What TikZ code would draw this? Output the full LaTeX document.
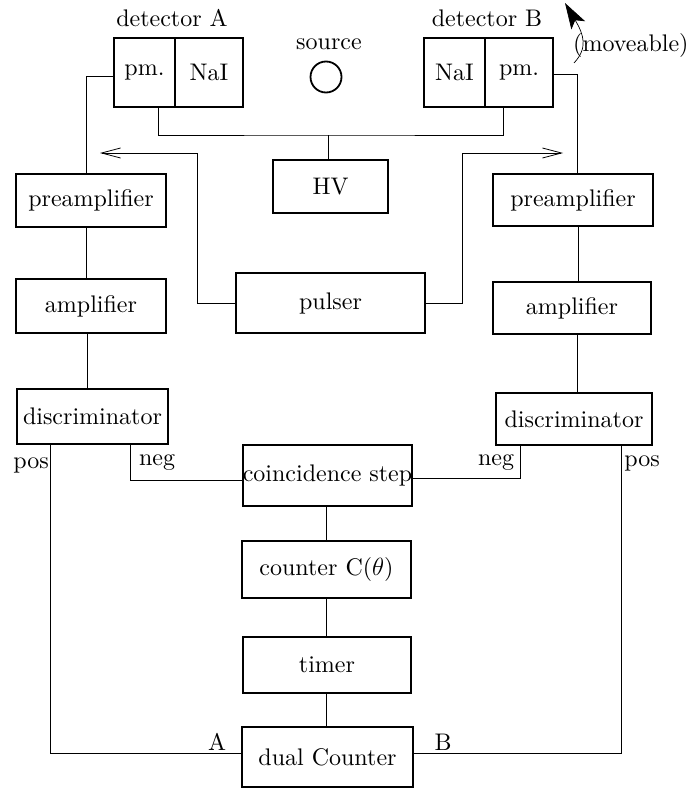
\documentclass[tikz,border=0pt]{standalone}
\usepackage{fontspec}
\setmainfont{lmroman10-regular.otf}
\usetikzlibrary{arrows.meta,calc}
\tikzset{
  box/.style={draw, line width=1.8pt, rectangle, inner sep=0pt, font=\fontsize{24}{28}\selectfont},
  wire/.style={line width=0.8pt},
  lbl/.style={inner sep=0pt, font=\fontsize{24}{28}\selectfont},
  barb/.style={-{Straight Barb[length=19pt,width=10pt,line width=0.8pt]}}
}
\begin{document}
\begin{tikzpicture}[x=1pt,y=-1pt]
\useasboundingbox (0,0) rectangle (689,789);
% detectors
\node[box, minimum width=61, minimum height=69] (pmA) at (144.5,72.5) {pm.};
\node[box, minimum width=68, minimum height=69] (naiA) at (209,72.5) {NaI};
\node[box, minimum width=61, minimum height=69] (naiB) at (454.5,72.5) {NaI};
\node[box, minimum width=68, minimum height=69] (pmB) at (519,72.5) {pm.};
\node[lbl] (detA) at (172,18) {detector A};
\node[lbl] (detB) at (487,18) {detector B};
\node[lbl] (srcl) at (329,44) {source};
\node[draw, line width=1.8pt, circle, minimum size=31, inner sep=0pt] (src) at (326,77) {};
\node[lbl, anchor=west] (mov) at (573,46) {(moveable)};
\draw[line width=0.7pt, -{Stealth[length=26pt,width=16pt,inset=6pt]}] (574,63) .. controls (588,48) and (584,35) .. (565,3);
% boxes
\node[box, minimum width=115, minimum height=53] (hv) at (330.5,186.5) {HV};
\node[box, minimum width=150, minimum height=53] (preA) at (91,200.5) {preamplifier};
\node[box, minimum width=160, minimum height=52] (preB) at (573,200) {preamplifier};
\node[box, minimum width=150, minimum height=54] (ampA) at (91,306) {amplifier};
\node[box, minimum width=158, minimum height=52] (ampB) at (572,308) {amplifier};
\node[box, minimum width=189, minimum height=60] (pulser) at (330.5,303) {pulser};
\node[box, minimum width=151, minimum height=55] (discA) at (92.5,416.5) {discriminator};
\node[box, minimum width=156, minimum height=52] (discB) at (574,419) {discriminator};
\node[box, minimum width=169, minimum height=61] (coinc) at (327.5,475.5) {coincidence step};
\node[box, minimum width=169, minimum height=57] (counter) at (326.5,569.5) {counter C(\(\theta\))};
\node[box, minimum width=168, minimum height=56] (timer) at (327,665) {timer};
\node[box, minimum width=171, minimum height=60] (dual) at (327.5,757) {dual Counter};
% labels
\node[lbl] (posA) at (31,465) {pos};
\node[lbl] (negA) at (157,463) {neg};
\node[lbl] (negB) at (496,463) {neg};
\node[lbl] (posB) at (642,463) {pos};
\node[lbl] (lA) at (217,742) {A};
\node[lbl] (lB) at (443,742) {B};
% coordinates
\coordinate (hvbus) at (328,135);
\coordinate (arrA) at (100,153);
\coordinate (arrB) at (563,153);
\coordinate (mid) at (326,0);
% wires
\draw[wire] ([yshift=-4pt]pmA.west) -| ([xshift=-5pt]preA.north);
\draw[wire] ([yshift=-2pt]pmB.east) -| ([xshift=4pt]preB.north);
\draw[wire] ([xshift=13.5pt]pmA.south) |- (hvbus) -| ([xshift=-16pt]pmB.south);
\draw[wire] (hvbus |- hv.north) -- (hvbus);
\draw[wire, barb] (pulser.west) -| ([xshift=-38pt]pulser.west |- arrA) -- (arrA);
\draw[wire, barb] (pulser.east) -| ([xshift=36pt]pulser.east |- arrB) -- (arrB);
\draw[wire] ([xshift=-5pt]preA.south) -- ([xshift=-5pt]preA.south |- ampA.north);
\draw[wire] ([xshift=-4pt]ampA.south) -- ([xshift=-4pt]ampA.south |- discA.north);
\draw[wire] ([xshift=5pt]preB.south) -- ([xshift=5pt]preB.south |- ampB.north);
\draw[wire] ([xshift=5pt]ampB.south) -- ([xshift=5pt]ampB.south |- discB.north);
\draw[wire] ([xshift=37.5pt]discA.south) |- ([yshift=-5pt]coinc.west);
\draw[wire] ([xshift=-54pt]discB.south) |- ([yshift=-3pt]coinc.east);
\draw[wire] ([xshift=-42.5pt]discA.south) |- ([yshift=4pt]dual.west);
\draw[wire] ([xshift=47pt]discB.south) |- ([yshift=4pt]dual.east);
\draw[wire] (mid |- coinc.south) -- (mid |- counter.north);
\draw[wire] (mid |- counter.south) -- (mid |- timer.north);
\draw[wire] (mid |- timer.south) -- (mid |- dual.north);
\end{tikzpicture}
\end{document}
